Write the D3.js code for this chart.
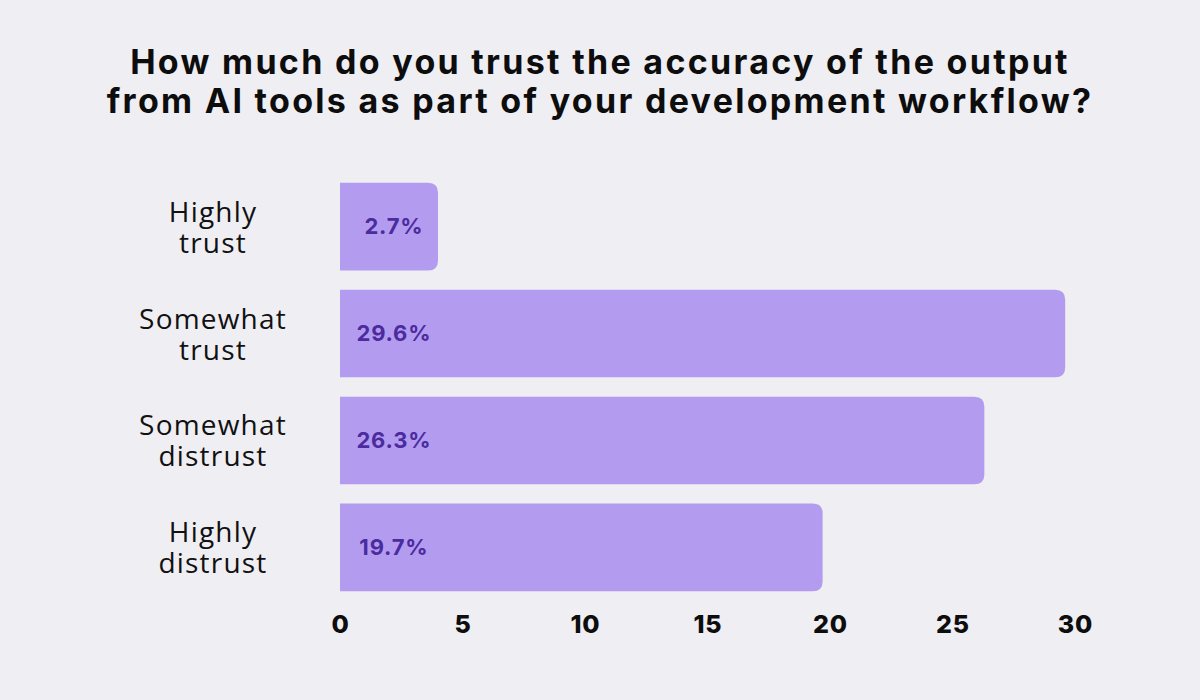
<!DOCTYPE html>
<html>
<head>
<meta charset="utf-8">
<script src="https://cdn.jsdelivr.net/npm/d3@7"></script>
<style>
  body { margin: 0; background: #efeef3; }
  svg { display: block; }
</style>
</head>
<body>
<div id="chart"></div>
<script>
// Data
const categories = [
    ['Highly', 'trust'],
    ['Somewhat', 'trust'],
    ['Somewhat', 'distrust'],
    ['Highly', 'distrust']
];
const values = [2.7, 29.6, 26.3, 19.7];
const tickValues = [0, 5, 10, 15, 20, 25, 30];
const titleLines = [
    'How much do you trust the accuracy of the output',
    'from AI tools as part of your development workflow?'
];

let width = 1200;
let height = 700;
let margin = { top: 172, bottom: 98, left: 340, right: 125 };

const chartWidth = width - margin.left - margin.right;
const chartHeight = height - margin.top - margin.bottom;

const data = values.map((v, i) => ({ key: i, label: categories[i], value: v }));

const xScale = d3.scaleLinear()
    .domain([0, 30])
    .range([0, chartWidth]);

const yScale = d3.scaleBand()
    .domain(data.map(d => d.key))
    .range([0, chartHeight])
    .paddingInner(0.18)
    .paddingOuter(0.1);

// smallest bar drawn wide enough to hold its label
const minBar = xScale(4);

const svg = d3.select('#chart')
  .append('svg')
    .attr('width', width)
    .attr('height', height);

svg.append('rect')
    .attr('width', width)
    .attr('height', height)
    .attr('fill', '#efeef3');

// Title
svg.append('text')
    .attr('x', width / 2)
    .attr('y', 74)
    .attr('text-anchor', 'middle')
    .style('font-family', 'Inter, "Noto Sans", sans-serif')
    .style('font-weight', 700)
    .style('font-size', '34px')
    .style('letter-spacing', '2.3px')
    .attr('fill', '#0d0d0d')
  .selectAll('tspan')
    .data(titleLines)
  .enter().append('tspan')
    .attr('x', width / 2)
    .attr('dy', (d, i) => i ? 39 : 0)
    .text(d => d);

const g = svg.append('g')
    .attr('transform', `translate(${margin.left},${margin.top})`);

// Bars: square left end, rounded right end
const r = 10;
function barPath(d) {
    const w = Math.max(xScale(d.value), minBar);
    const y0 = yScale(d.key);
    const h = yScale.bandwidth();
    return `M0,${y0}H${w - r}Q${w},${y0} ${w},${y0 + r}` +
        `V${y0 + h - r}Q${w},${y0 + h} ${w - r},${y0 + h}H0Z`;
}

g.selectAll('.bar')
    .data(data)
  .enter().append('path')
    .classed('bar', true)
    .attr('d', barPath)
    .attr('fill', '#b39cf0');

// Value labels
g.selectAll('.value')
    .data(data)
  .enter().append('text')
    .classed('value', true)
    .attr('x', xScale(2.2))
    .attr('y', d => yScale(d.key) + yScale.bandwidth() / 2)
    .attr('dy', '0.36em')
    .attr('text-anchor', 'middle')
    .style('font-family', 'Inter, "Noto Sans", sans-serif')
    .style('font-weight', 700)
    .style('font-size', '22px')
    .style('letter-spacing', '0.8px')
    .attr('fill', '#4b2b9e')
    .text(d => d.value.toFixed(1) + '%');

// Category labels
const labels = g.selectAll('.cat')
    .data(data)
  .enter().append('text')
    .classed('cat', true)
    .attr('text-anchor', 'middle')
    .attr('y', d => yScale(d.key) + yScale.bandwidth() / 2)
    .style('font-family', '"Open Sans", "Noto Sans", sans-serif')
    .style('font-size', '28px')
    .style('letter-spacing', '1.2px')
    .attr('fill', '#111');

labels.selectAll('tspan')
    .data(d => d.label)
  .enter().append('tspan')
    .attr('x', -127)
    .attr('dy', (d, i) => i ? 31 : -5)
    .text(d => d);

// X axis
const xAxis = d3.axisBottom(xScale)
    .tickValues(tickValues)
    .tickSize(0)
    .tickPadding(0);

const axisG = g.append('g')
    .attr('transform', `translate(0,${chartHeight})`)
    .call(xAxis);

axisG.select('.domain').remove();
axisG.selectAll('text')
    .attr('y', 22)
    .attr('dy', '0.36em')
    .style('font-family', 'Inter, "Noto Sans", sans-serif')
    .style('font-weight', 800)
    .style('font-size', '25px')
    .style('letter-spacing', '0.8px')
    .attr('fill', '#0d0d0d');
</script>
</body>
</html>
